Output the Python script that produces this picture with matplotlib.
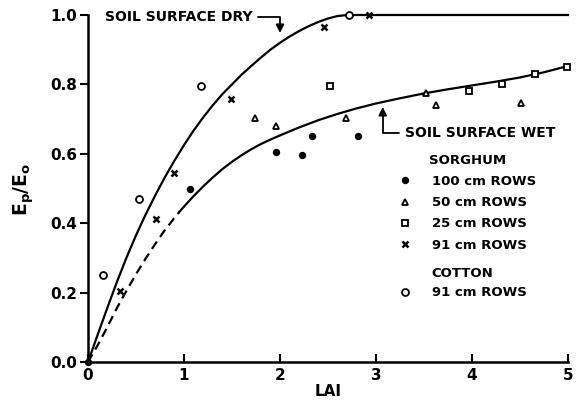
import matplotlib
matplotlib.use('Agg')
from matplotlib import pyplot as plt

plt.rcParams['font.family'] = ['DejaVu Sans']
plt.rcParams['font.weight'] = 'bold'
plt.rcParams['mathtext.fontset'] = 'dejavusans'

# curves
dry_lai = [0.0, 0.1, 0.2, 0.3, 0.4, 0.5, 0.6, 0.7, 0.8, 0.9, 1.0, 1.1, 1.2, 1.3, 1.4,
           1.5, 1.6, 1.7, 1.8, 1.9, 2.0, 2.1, 2.2, 2.3, 2.4, 2.5, 2.6, 2.7, 5.0]
dry_ep = [0.0, 0.078, 0.155, 0.23, 0.30, 0.365, 0.425, 0.48, 0.532, 0.58, 0.625, 0.667,
          0.705, 0.74, 0.772, 0.80, 0.828, 0.853, 0.877, 0.9, 0.92, 0.938, 0.954,
          0.968, 0.98, 0.99, 0.997, 1.0, 1.0]
wet_dash_lai = [0.0, 0.1, 0.2, 0.3, 0.4, 0.5, 0.6, 0.7, 0.8, 0.9, 0.95]
wet_dash_ep = [0.0, 0.048, 0.1, 0.155, 0.205, 0.253, 0.298, 0.34, 0.38, 0.415, 0.432]
wet_lai = [0.95, 1.0, 1.1, 1.2, 1.3, 1.4, 1.5, 1.6, 1.7, 1.8, 1.9, 2.0, 2.2, 2.4, 2.6,
           2.8, 3.0, 3.25, 3.5, 3.75, 4.0, 4.25, 4.5, 4.75, 5.0]
wet_ep = [0.432, 0.448, 0.478, 0.506, 0.532, 0.556, 0.577, 0.596, 0.613, 0.628, 0.641,
          0.653, 0.676, 0.697, 0.715, 0.731, 0.745, 0.76, 0.774, 0.786, 0.797, 0.808,
          0.82, 0.835, 0.853]

# sorghum
s100_lai = [0.0, 1.06, 1.96, 2.23, 2.33, 2.81]
s100_ep = [0.0, 0.50, 0.605, 0.597, 0.651, 0.651]
s50_lai = [1.74, 1.96, 2.69, 3.52, 3.63, 4.51]
s50_ep = [0.703, 0.68, 0.703, 0.776, 0.741, 0.747]
s25_lai = [2.52, 3.97, 4.31, 4.66, 4.99]
s25_ep = [0.795, 0.78, 0.80, 0.83, 0.85]
s91_lai = [0.33, 0.71, 0.90, 1.49, 2.46, 2.93]
s91_ep = [0.205, 0.412, 0.545, 0.758, 0.965, 1.0]
# cotton
c91_lai = [0.155, 0.53, 1.18, 2.72]
c91_ep = [0.25, 0.47, 0.795, 1.0]

fig = plt.figure(figsize=(5.83, 4.03), dpi=100)
ax = fig.add_axes([88/583, 41/403, 480/583, 347/403])

ax.plot(dry_lai, dry_ep, color='black', lw=1.6, zorder=2, clip_on=False)
ax.plot(wet_dash_lai, wet_dash_ep, color='black', lw=1.6, ls=(0, (4, 2.5)), zorder=2)
ax.plot(wet_lai, wet_ep, color='black', lw=1.6, zorder=2, clip_on=False)

mk = dict(ls='none', color='black', mfc='white', mec='black', mew=1.3, ms=5,
          zorder=3, clip_on=False)
h100, = ax.plot(s100_lai, s100_ep, marker='o', **dict(mk, mfc='black', ms=4))
h50, = ax.plot(s50_lai, s50_ep, marker='^', **mk)
h25, = ax.plot(s25_lai, s25_ep, marker='s', **mk)
h91, = ax.plot(s91_lai, s91_ep, marker='x', **dict(mk, ms=5, mew=1.8))
hc, = ax.plot(c91_lai, c91_ep, marker='o', **mk)

ax.set_xlim(0, 5)
ax.set_ylim(0, 1.0)
ax.set_xticks([0, 1, 2, 3, 4, 5])
ax.set_yticks([0.0, 0.2, 0.4, 0.6, 0.8, 1.0])
ax.set_yticklabels(['0.0', '0.2', '0.4', '0.6', '0.8', '1.0'])
ax.tick_params(axis='x', direction='in', length=6, width=1.5, labelsize=11, pad=4)
ax.tick_params(axis='y', direction='out', length=6, width=1.5, labelsize=11, pad=2)
for s in ['top', 'right']:
    ax.spines[s].set_visible(False)
for s in ['left', 'bottom']:
    ax.spines[s].set_linewidth(1.8)
for lab in ax.get_xticklabels() + ax.get_yticklabels():
    lab.set_fontweight('bold')

ax.set_xlabel('LAI', fontsize=11, fontweight='bold', labelpad=1)
fig.text(0.04, 0.53, r'$\mathbf{E_p/E_o}$', rotation=90, fontsize=13.5, ha='center', va='center')

arr = dict(arrowstyle='-|>', color='black', lw=1.3, mutation_scale=12,
           connectionstyle='angle,angleA=0,angleB=90,rad=0', shrinkA=2, shrinkB=0)
ax.annotate('SOIL SURFACE DRY', xy=(2.0, 0.948), xytext=(0.18, 0.994),
            fontsize=10, fontweight='bold', va='center', ha='left',
            arrowprops=arr, annotation_clip=False)
ax.annotate('SOIL SURFACE WET', xy=(3.07, 0.735), xytext=(3.3, 0.66),
            fontsize=10, fontweight='bold', va='center', ha='left',
            arrowprops=arr)

leg1 = ax.legend([h100, h50, h25, h91],
                 ['100 cm ROWS', '50 cm ROWS', '25 cm ROWS', '91 cm ROWS'],
                 title='SORGHUM', loc='upper left', bbox_to_anchor=(0.635, 0.615),
                 frameon=False, fontsize=9.5, handlelength=1.0, handletextpad=1.6,
                 labelspacing=0.62, borderaxespad=0,
                 title_fontproperties={'weight': 'bold', 'size': 9.5})
for t in leg1.get_texts():
    t.set_fontweight('bold')
ax.add_artist(leg1)
leg2 = ax.legend([hc], ['91 cm ROWS'], title='COTTON', loc='upper left',
                 bbox_to_anchor=(0.635, 0.29), frameon=False, fontsize=9.5,
                 handlelength=1.0, handletextpad=1.6, borderaxespad=0,
                 title_fontproperties={'weight': 'bold', 'size': 9.5})
for t in leg2.get_texts():
    t.set_fontweight('bold')

fig.savefig('out.png', dpi=100)
